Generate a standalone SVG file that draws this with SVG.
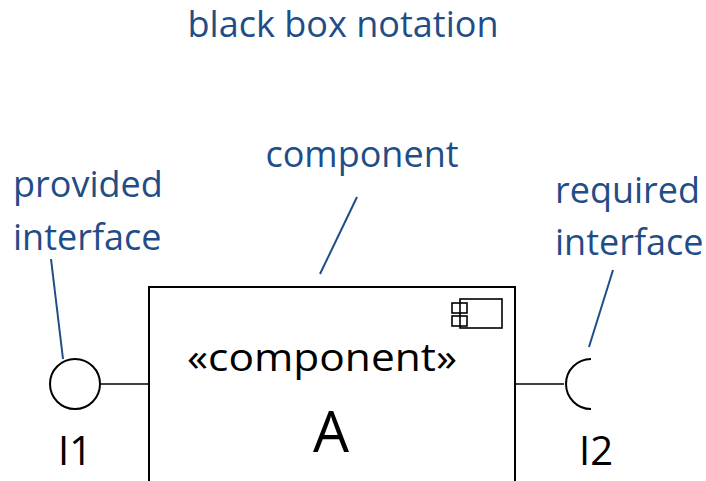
<svg xmlns="http://www.w3.org/2000/svg" width="706" height="481" viewBox="0 0 706 481">
<style>
.lbl{font-family:"Open Sans","Liberation Sans",sans-serif;fill:#1F4D87;font-size:36px}
.blk{font-family:"Open Sans","Liberation Sans",sans-serif;fill:#000}
.sh{fill:none;stroke:#000;stroke-width:2}
.ln{fill:none;stroke:#000;stroke-width:1.6}
.bl{fill:none;stroke:#1F4D87;stroke-width:2}
</style>
<rect width="706" height="481" fill="#fff"/>
<text class="lbl" x="343" y="37" text-anchor="middle" font-size="35" textLength="311" lengthAdjust="spacingAndGlyphs">black box notation</text>
<g id="component-A">
<path class="sh" d="M149,481 V287 H515 V481"/>
<rect class="ln" x="460" y="299" width="42" height="29"/>
<rect class="ln" x="452" y="303" width="15" height="10" fill="#fff"/>
<rect class="ln" x="452" y="316" width="15" height="10" fill="#fff"/>
<text class="blk" x="322" y="371" text-anchor="middle" font-size="39" textLength="270" lengthAdjust="spacingAndGlyphs">«component»</text>
<text class="blk" x="331" y="452" text-anchor="middle" font-size="57">A</text>
</g>
<g id="I1">
<circle class="sh" cx="75" cy="384" r="25" fill="#fff"/>
<text class="blk" x="75" y="465" text-anchor="middle" font-size="40">I1</text>
</g>
<g id="I2">
<path class="sh" d="M591,359 A25,25 0 0 0 591,409"/>
<text class="blk" x="596" y="465" text-anchor="middle" font-size="40">I2</text>
</g>
<g id="connectors">
<line class="ln" x1="100" y1="384" x2="149" y2="384"/>
<line class="ln" x1="515" y1="384" x2="564" y2="384"/>
</g>
<g id="annotations">
<text class="lbl" x="13" y="197">provided</text>
<text class="lbl" x="13" y="250">interface</text>
<line class="bl" x1="51" y1="259" x2="63" y2="359"/>
<text class="lbl" x="362" y="167" text-anchor="middle">component</text>
<line class="bl" x1="357" y1="197" x2="320" y2="274"/>
<text class="lbl" x="555" y="203">required</text>
<text class="lbl" x="555" y="255">interface</text>
<line class="bl" x1="613" y1="270" x2="589" y2="347"/>
</g>
</svg>
